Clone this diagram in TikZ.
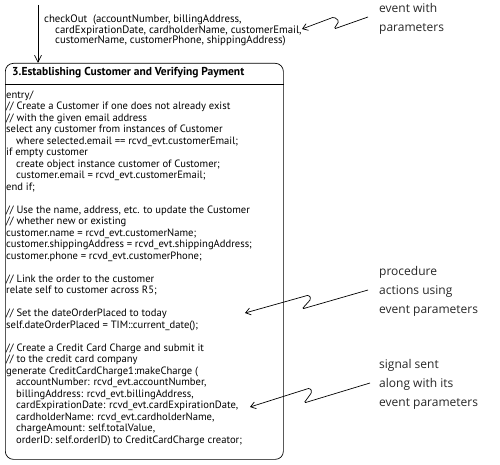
\documentclass[tikz,border=0pt]{standalone}
\usepackage{fontspec}
\setmainfont{PT Sans}
\newfontfamily\notefont{Open Sans}
\usetikzlibrary{arrows.meta}
\tikzset{
  codetext/.style={inner sep=0pt, anchor=north west, align=left, font=\fontsize{10.6}{11.5}\selectfont},
  eventtext/.style={inner sep=0pt, anchor=north west, align=left, font=\fontsize{10.8}{10.5}\selectfont},
  notetext/.style={inner sep=0pt, anchor=west, align=left, text=black!85, font=\notefont\fontsize{12}{19}\selectfont},
  notearrow/.style={-{Straight Barb[length=5pt,width=7pt]}, line width=0.7pt, rounded corners=1.5pt},
  statebox/.style={draw, line width=0.7pt, rounded corners=8pt, anchor=north west, inner sep=0pt},
}
\begin{document}
\begin{tikzpicture}[x=1pt,y=-1pt]
\useasboundingbox (0,0) rectangle (500,465);
% state box
\node[statebox, minimum width=278pt, minimum height=396pt] (state) at (5,63) {};
\node[inner sep=0pt, anchor=west, font=\bfseries\fontsize{11.5}{12}\selectfont] (hdr) at (12,73) {3.Establishing Customer and Verifying Payment};
\coordinate (divL) at (5,84);
\draw[line width=0.6pt] (divL) -- (divL -| state.east);
% code
\node[codetext] (code) at (6,90.5) {entry/\\
// Create a Customer if one does not already exist\\
// with the given email address\\
select any customer from instances of Customer\\
\hspace*{10pt}where selected.email == rcvd\_evt.customerEmail;\\
if empty customer\\
\hspace*{10pt}create object instance customer of Customer;\\
\hspace*{10pt}customer.email = rcvd\_evt.customerEmail;\\
end if;\\
\strut\\
// Use the name, address, etc. to update the Customer\\
// whether new or existing\\
customer.name = rcvd\_evt.customerName;\\
customer.shippingAddress = rcvd\_evt.shippingAddress;\\
customer.phone = rcvd\_evt.customerPhone;\\
\strut\\
// Link the order to the customer\\
relate self to customer across R5;\\
\strut\\
// Set the dateOrderPlaced to today\\
self.dateOrderPlaced = TIM::current\_date();\\
\strut\\
// Create a Credit Card Charge and submit it\\
// to the credit card company\\
generate CreditCardCharge1:makeCharge (\\
\hspace*{10pt}accountNumber: rcvd\_evt.accountNumber,\\
\hspace*{10pt}billingAddress: rcvd\_evt.billingAddress,\\
\hspace*{10pt}cardExpirationDate: rcvd\_evt.cardExpirationDate,\\
\hspace*{10pt}cardholderName: rcvd\_evt.cardholderName,\\
\hspace*{10pt}chargeAmount: self.totalValue,\\
\hspace*{10pt}orderID: self.orderID) to CreditCardCharge creator;};
% incoming transition
\coordinate (start) at (38,5);
\draw[line width=0.7pt, -{Straight Barb[length=7pt,width=7pt]}] (start) -- (start |- state.north);
\node[eventtext] (event) at (44,15) {checkOut\ \ (accountNumber, billingAddress,\\
\hspace*{11pt}cardExpirationDate, cardholderName, customerEmail,\\
\hspace*{11pt}customerName, customerPhone, shippingAddress)};
% annotations
\node[notetext] (n1) at (379,19) {event with\\parameters};
\node[notetext] (n2) at (379,291) {procedure\\actions using\\event parameters};
\node[notetext] (n3) at (379,384) {signal sent\\along with its\\event parameters};
\coordinate (t1) at (302,29);
\coordinate (t2) at (245,313);
\coordinate (t3) at (250,407);
\draw[notearrow] (n1.west |- 0,17) ++(-11,0) -- (334,29) -- (339,21) -- (334,17) -- (t1);
\draw[notearrow] (n2.west |- 0,290) ++(-11,0) -- (302,309) -- (311,299) -- (309,295) -- (t2);
\draw[notearrow] (n3.west |- 0,383) ++(-9,0) -- (304,403) -- (312,392) -- (310,388) -- (t3);
\end{tikzpicture}
\end{document}
